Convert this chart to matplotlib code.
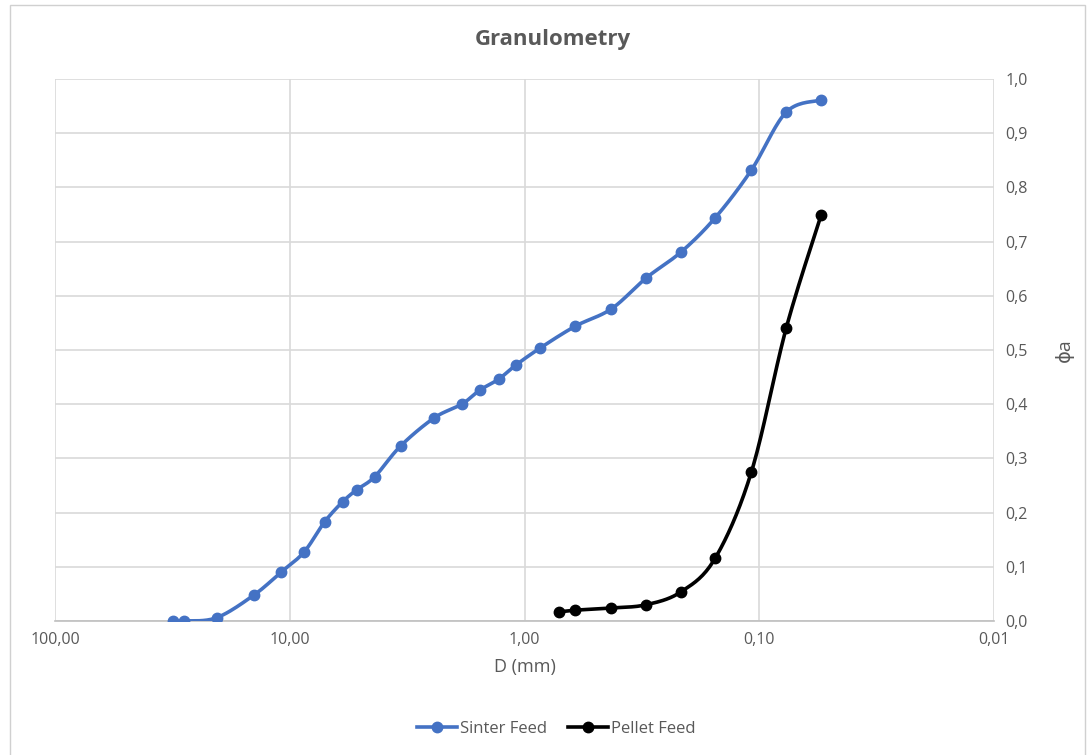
import numpy as np
from matplotlib import pyplot as plt
from matplotlib.patches import Rectangle
from matplotlib.ticker import FixedLocator, FuncFormatter, MultipleLocator

# Sinter feed: particle size (mm) and cumulative fraction
sinter_d = [31.5, 28.3, 20.5, 14.2, 10.9, 8.7, 7.1, 5.95, 5.19, 4.35, 3.37, 2.42,
            1.85, 1.55, 1.29, 1.09, 0.855, 0.607, 0.426, 0.303, 0.215, 0.154,
            0.108, 0.0767, 0.0545]
sinter_phi = [0.0, 0.0, 0.006, 0.048, 0.090, 0.127, 0.183, 0.220, 0.242, 0.266,
              0.323, 0.375, 0.400, 0.426, 0.446, 0.472, 0.504, 0.544, 0.576,
              0.633, 0.681, 0.744, 0.832, 0.939, 0.961]

# Pellet feed
pellet_d = [0.71, 0.607, 0.426, 0.303, 0.215, 0.154, 0.108, 0.0767, 0.0545]
pellet_phi = [0.017, 0.020, 0.024, 0.030, 0.054, 0.116, 0.275, 0.541, 0.749]

x_ticks = [100, 10, 1, 0.1, 0.01]


def smooth(xs, ys, n=20):
    # catmull-rom through the points, done in log10(x) space like excel smoothing
    px = np.log10(np.array(xs, dtype=float))
    py = np.array(ys, dtype=float)
    px = np.concatenate([[px[0]], px, [px[-1]]])
    py = np.concatenate([[py[0]], py, [py[-1]]])
    out_x, out_y = [], []
    for i in range(1, len(px) - 2):
        t = np.linspace(0, 1, n)
        for arr, out in ((px, out_x), (py, out_y)):
            p0, p1, p2, p3 = arr[i - 1], arr[i], arr[i + 1], arr[i + 2]
            v = 0.5 * ((2 * p1) + (-p0 + p2) * t
                       + (2 * p0 - 5 * p1 + 4 * p2 - p3) * t ** 2
                       + (-p0 + 3 * p1 - 3 * p2 + p3) * t ** 3)
            out.extend(v)
    return 10 ** np.array(out_x), np.array(out_y)


plt.rcParams['font.family'] = ['Open Sans', 'DejaVu Sans']

fig = plt.figure(figsize=(10.91, 7.55), dpi=100)
fig.patches.append(Rectangle((10 / 1091, -0.01), 1075 / 1091, 1.0 - 5 / 755 + 0.01,
                             transform=fig.transFigure, fill=False,
                             edgecolor='#d0d0d0', linewidth=1))
ax = fig.add_axes([55 / 1091, 1 - 621 / 755, 939 / 1091, 542 / 755])

blue = '#4472c4'
sx, sy = smooth(sinter_d, sinter_phi)
ax.plot(sx, sy, color=blue, linewidth=2.6, zorder=3)
ax.plot(sinter_d, sinter_phi, 'o', color=blue, markersize=7.5, zorder=4)
px, py = smooth(pellet_d, pellet_phi)
ax.plot(px, py, color='black', linewidth=2.6, zorder=3)
ax.plot(pellet_d, pellet_phi, 'o', color='black', markersize=7.5, zorder=4)

ax.set_xscale('log')
ax.set_xlim(100, 0.01)
ax.set_ylim(0, 1.0)
ax.xaxis.set_major_locator(FixedLocator(x_ticks))
ax.xaxis.set_minor_locator(FixedLocator([]))
ax.xaxis.set_major_formatter(FuncFormatter(lambda v, p: f"{v:.2f}".replace('.', ',')))
ax.yaxis.set_major_locator(MultipleLocator(0.1))
ax.yaxis.set_major_formatter(FuncFormatter(lambda v, p: f"{v:.1f}".replace('.', ',')))
ax.yaxis.tick_right()
ax.yaxis.set_label_position('right')

ax.grid(True, color='#d9d9d9', linewidth=1.2)
ax.set_axisbelow(True)
for s in ['top', 'right', 'left']:
    ax.spines[s].set_visible(False)
ax.spines['bottom'].set_color('#bfbfbf')
ax.spines['bottom'].set_linewidth(1.2)
ax.tick_params(length=0, labelsize=11.5, labelcolor='#595959', pad=8)

ax.set_xlabel('D (mm)', fontsize=13, color='#595959', labelpad=7)
ax.set_ylabel('ϕa', fontsize=14, color='#595959', rotation=90, labelpad=20)
fig.text(0.507, 1 - 40 / 755, 'Granulometry', ha='center', va='center',
         fontsize=16, fontweight='bold', color='#595959')

handles = [plt.Line2D([], [], color=blue, marker='o', linewidth=2.6, markersize=7.5),
           plt.Line2D([], [], color='black', marker='o', linewidth=2.6, markersize=7.5)]
fig.legend(handles, ['Sinter Feed', 'Pellet Feed'], loc='center',
           bbox_to_anchor=(0.51, 1 - 729 / 755), ncol=2, frameon=False,
           fontsize=12, labelcolor='#595959', handlelength=2.4,
           handletextpad=0.15, columnspacing=1.3)

fig.savefig('out.png', dpi=100)
